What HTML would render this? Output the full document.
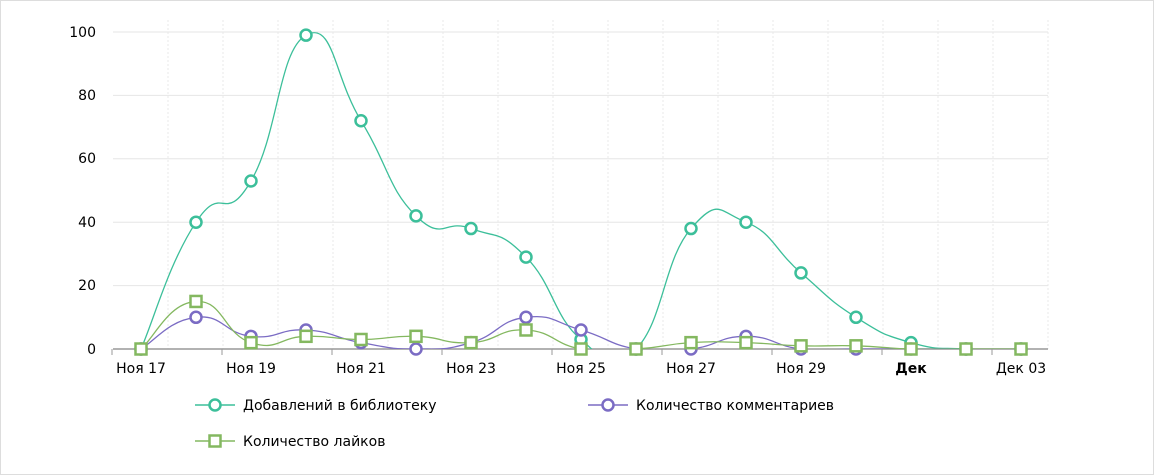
<!DOCTYPE html>
<html><head><meta charset="utf-8"><style>
html,body{margin:0;padding:0;background:#fff}
svg{display:block;font-family:Verdana,"DejaVu Sans",sans-serif}
</style></head><body>
<svg id="s" width="1161" height="475" xmlns="http://www.w3.org/2000/svg">
<rect x="0.5" y="0.5" width="1153" height="474" fill="#fff" stroke="#ddd"/>
<g id="grid"></g>
<g font-size="14" fill="#000" text-anchor="end">
<text x="96" y="37">100</text><text x="96" y="100">80</text><text x="96" y="163">60</text>
<text x="96" y="227">40</text><text x="96" y="290">20</text><text x="96" y="354">0</text>
</g>
<line x1="113" y1="349" x2="1048" y2="349" stroke="#999" stroke-width="1.5"/>
<defs><clipPath id="c"><rect x="100" y="0" width="960" height="349"/></clipPath></defs>
<g id="lines" clip-path="url(#c)"></g>
<g id="marks"></g>
<g font-size="14" fill="#000" text-anchor="middle">
<text x="141" y="373">Ноя 17</text><text x="251" y="373">Ноя 19</text><text x="361" y="373">Ноя 21</text>
<text x="471" y="373">Ноя 23</text><text x="581" y="373">Ноя 25</text><text x="691" y="373">Ноя 27</text>
<text x="801" y="373">Ноя 29</text><text x="911" y="373" font-weight="bold">Дек</text><text x="1021" y="373">Дек 03</text>
</g>
<g font-size="14" fill="#000">
<line x1="195" y1="405" x2="235" y2="405" stroke="#3cbf9a" stroke-width="1.5"/>
<circle cx="215" cy="405" r="5.5" fill="#fff" stroke="#3cbf9a" stroke-width="2.5"/>
<text x="243" y="410">Добавлений в библиотеку</text>
<line x1="588" y1="405" x2="628" y2="405" stroke="#7b6cc4" stroke-width="1.5"/>
<circle cx="608" cy="405" r="5.5" fill="#fff" stroke="#7b6cc4" stroke-width="2.5"/>
<text x="636" y="410">Количество комментариев</text>
<line x1="195" y1="441" x2="235" y2="441" stroke="#84b860" stroke-width="1.5"/>
<rect x="209.5" y="435.5" width="11" height="11" fill="#fff" stroke="#84b860" stroke-width="2.5"/>
<text x="243" y="446">Количество лайков</text>
</g>
</svg>
<script>
const X=i=>141+55*i, Y=v=>349-3.17*v;
const g=document.getElementById('grid');let h='';
[20,40,60,80,100].forEach(v=>h+=`<line x1="113" x2="1048" y1="${Y(v)}" y2="${Y(v)}" stroke="#e6e6e6"/>`);
for(let i=0;i<17;i++)h+=`<line x1="${X(i)+27}" x2="${X(i)+27}" y1="20" y2="349" stroke="#e8e8e8" stroke-dasharray="2,2"/>`;
for(let i=0;i<9;i++)h+=`<line x1="${X(2*i)-29}" x2="${X(2*i)-29}" y1="349" y2="355" stroke="#999"/>`;
g.innerHTML=h;
const S=[
{c:'#3cbf9a',m:'c',d:[0,40,53,99,72,42,38,29,3,0,38,40,24,10,2,0,0],r:-3},
{c:'#7b6cc4',m:'c',d:[0,10,4,6,2,0,2,10,6,0,0,4,0,0,0,0,0]},
{c:'#84b860',m:'s',d:[0,15,2,4,3,4,2,6,0,0,2,2,1,1,0,0,0]}];
let L='',M='';
S.forEach(s=>{const p=s.d.map((v,i)=>[X(i),Y(v)]);
 let d=`M${p[0][0]},${p[0][1]}`;
 for(let i=0;i<p.length-1;i++){const a=p[i-1]||p[i],b=p[i],c=p[i+1],e=p[i+2]||c,t=0.3;
  d+=` C${b[0]+(c[0]-a[0])*t/1.2},${b[1]+(c[1]-a[1])*t/1.2} ${c[0]-(e[0]-b[0])*t/1.2},${c[1]-(e[1]-b[1])*t/1.2} ${c[0]},${c[1]}`;}
 L+=`<path d="${d}" fill="none" stroke="${s.c}" stroke-width="1.3"/>`;
 p.forEach(q=>{M+=s.m=='c'?`<circle cx="${q[0]}" cy="${q[1]}" r="5.5" fill="#fff" stroke="${s.c}" stroke-width="2.5"/>`
 :`<rect x="${q[0]-5.5}" y="${q[1]-5.5}" width="11" height="11" fill="#fff" stroke="${s.c}" stroke-width="2.5"/>`;});});
document.getElementById('lines').innerHTML=L;document.getElementById('marks').innerHTML=M;
</script>
</body></html>
